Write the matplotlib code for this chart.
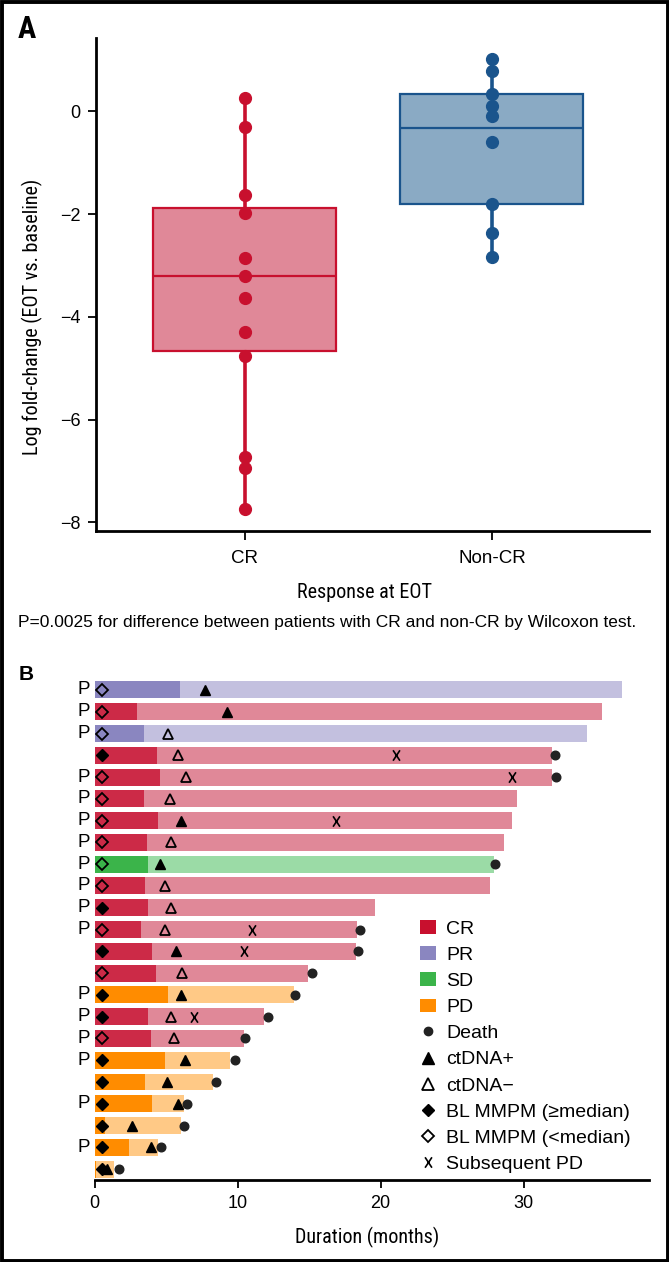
import numpy as np
import matplotlib
matplotlib.use("Agg")
import matplotlib.pyplot as plt
import matplotlib.font_manager as fm
from matplotlib.patches import Patch, Rectangle
from matplotlib.lines import Line2D
from matplotlib.path import Path

# ---------------- Panel A data ----------------
groups = ["CR", "Non-CR"]
cr_values = [0.26, -0.31, -1.63, -1.97, -2.86, -3.21, -3.64, -4.29, -4.76, -6.72, -6.95, -7.74]
noncr_values = [1.02, 0.78, 0.33, 0.10, -0.09, -0.60, -1.80, -2.36, -2.83]
box_q1 = [-4.66, -1.80]
box_med = [-3.20, -0.32]
box_q3 = [-1.88, 0.34]
box_lo = [-7.74, -2.83]
box_hi = [0.26, 1.02]
a_yticks = [-8, -6, -4, -2, 0]

# ---------------- Panel B data (rows top to bottom) ----------------
resp = ["PR", "CR", "PR", "CR", "CR", "CR", "CR", "CR", "SD", "CR", "CR", "CR",
        "CR", "CR", "PD", "CR", "CR", "PD", "PD", "PD", "PD", "PD", "PD"]
dur_end = [36.86, 35.48, 34.47, 31.99, 31.99, 29.51, 29.19, 28.62, 27.96, 27.64, 19.64, 18.35,
           18.26, 14.92, 13.94, 11.82, 10.45, 9.46, 8.26, 6.24, 6.03, 4.40, 1.37]
resp_end = [5.97, 2.95, 3.46, 4.33, 4.57, 3.46, 4.45, 3.67, 3.70, 3.52, 3.76, 3.22,
            4.00, 4.27, 5.13, 3.73, 3.91, 4.92, 3.52, 4.00, 0.74, 2.39, 0.10]
ctdna_t = [7.73, 9.28, 5.10, 5.85, 6.42, 5.28, 6.06, 5.31, 4.54, 4.92, 5.34, 4.95,
           5.67, 6.09, 6.03, 5.34, 5.55, 6.30, 5.04, 5.85, 2.63, 3.93, 0.88]
ctdna_pos = [1, 1, 0, 0, 0, 0, 1, 0, 1, 0, 0, 0, 1, 0, 1, 0, 0, 1, 1, 1, 1, 1, 1]
mmpm_high = [0, 0, 0, 1, 0, 0, 0, 0, 0, 0, 1, 0, 1, 0, 1, 1, 0, 1, 1, 1, 1, 1, 1]
mmpm_t = [0.54] * 22 + [0.49]
nan = float("nan")
death_t = [nan, nan, nan, 32.20, 32.29, nan, nan, nan, 28.02, nan, nan, 18.53,
           18.44, 15.19, 14.00, 12.09, 10.54, 9.79, 8.48, 6.45, 6.27, 4.67, 1.72]
subpd_t = [nan, nan, nan, 21.07, 29.19, nan, 16.86, nan, nan, nan, nan, 10.98,
           10.47, nan, nan, 6.98, nan, nan, nan, nan, nan, nan, nan]
p_flag = [1, 1, 1, 0, 1, 1, 1, 1, 1, 1, 1, 1, 0, 0, 1, 1, 1, 1, 0, 1, 0, 1, 0]
b_xticks = [0, 10, 20, 30]
legend_labels = ["CR", "PR", "SD", "PD", "Death", "ctDNA+", "ctDNA\u2212",
                 "BL MMPM (\u2265median)", "BL MMPM (<median)", "Subsequent PD"]

# ---------------- styles ----------------
dark = {"CR": "#CC2A47", "PR": "#8A86C0", "SD": "#3BB44A", "PD": "#FF8C00"}
light = {"CR": "#E08898", "PR": "#C3C0DF", "SD": "#9BDBA6", "PD": "#FFC986"}
legend_col = {"CR": "#C8102E", "PR": "#8A86C0", "SD": "#3BB44A", "PD": "#FF8C00"}
a_line = ["#C8102E", "#1A548C"]
a_fill = ["#E08898", "#8AAAC4"]

# thin letter-like "x" marker
xmark = Path([(-0.33, -0.5), (0.33, 0.5), (-0.33, 0.5), (0.33, -0.5)],
             [Path.MOVETO, Path.LINETO, Path.MOVETO, Path.LINETO])

# fonts
avail = {f.name for f in fm.fontManager.ttflist}
SANS = ["Liberation Sans", "DejaVu Sans"]
narrow_kw = None
for n in ["Liberation Sans Narrow", "DejaVu Sans Condensed", "Roboto Condensed", "Open Sans Condensed"]:
    if n in avail:
        narrow_kw = {"family": [n, "DejaVu Sans"]}
        break
if narrow_kw is None:
    if any(f.name == "DejaVu Sans" and f.stretch == "condensed" for f in fm.fontManager.ttflist):
        narrow_kw = {"family": ["DejaVu Sans"], "stretch": "condensed"}
    else:
        narrow_kw = {"family": SANS}
plt.rcParams["font.family"] = SANS
plt.rcParams["axes.unicode_minus"] = True

W, H = 669, 1262
fig = plt.figure(figsize=(W / 100, H / 100), dpi=100)
fig.patch.set_facecolor("white")

def fx(px):
    return px / W

def fy(py):
    return 1 - py / H

# ---------------- Panel A ----------------
axA = fig.add_axes([fx(96.4), fy(531), fx(649.3) - fx(96.4), fy(38) - fy(531)])
stats = []
for i in range(2):
    stats.append({"med": box_med[i], "q1": box_q1[i], "q3": box_q3[i],
                  "whislo": box_lo[i], "whishi": box_hi[i], "fliers": [], "label": groups[i]})
pos = np.arange(len(groups))
bp = axA.bxp(stats, positions=pos, widths=0.74, patch_artist=True, showcaps=False,
             showfliers=False, manage_ticks=False)
for i in range(2):
    bp["boxes"][i].set(facecolor=a_fill[i], edgecolor=a_line[i], linewidth=1.6, zorder=2)
    bp["medians"][i].set(color=a_line[i], linewidth=1.6, zorder=3)
    for w in bp["whiskers"][2 * i:2 * i + 2]:
        w.set(color=a_line[i], linewidth=2.6, zorder=1, solid_capstyle="butt")
axA.plot(np.full(len(cr_values), pos[0]), cr_values, "o", color=a_line[0], ms=8.5, zorder=4)
axA.plot(np.full(len(noncr_values), pos[1]), noncr_values, "o", color=a_line[1], ms=8.5, zorder=4)
axA.set_xlim(-0.599, 1.636)
axA.set_ylim(-8.17, 1.43)
axA.set_xticks(pos)
axA.set_xticklabels(groups, fontsize=13.5)
axA.set_yticks(a_yticks)
axA.tick_params(axis="y", labelsize=13, length=6, width=1.3, pad=5.5)
axA.tick_params(axis="x", length=6.5, width=1.3, pad=7)
for s in ["top", "right"]:
    axA.spines[s].set_visible(False)
for s in ["left", "bottom"]:
    axA.spines[s].set_linewidth(2.0)
axA.set_ylabel("Log fold-change (EOT vs. baseline)", fontsize=14.5, **narrow_kw)
axA.yaxis.label.set_verticalalignment("center")
axA.yaxis.set_label_coords((32 - 96.4) / 552.9, (531 - 316.5) / 493)
axA.set_xlabel("Response at EOT", fontsize=14.5, **narrow_kw)
axA.xaxis.label.set_verticalalignment("center")
axA.xaxis.set_label_coords((364.8 - 96.4) / 552.9, (531 - 592) / 493)

fig.text(fx(18), fy(623), "P=0.0025 for difference between patients with CR and non-CR by Wilcoxon test.",
         fontsize=12.5, ha="left", va="center")
fig.text(fx(27), fy(29), "A", fontsize=22, fontweight="bold", ha="center", va="center", **narrow_kw)
fig.text(fx(26.5), fy(674), "B", fontsize=15, fontweight="bold", ha="center", va="center")

# ---------------- Panel B ----------------
axB = fig.add_axes([fx(94.7), fy(1180), fx(649.3) - fx(94.7), fy(679.1) - fy(1180)])
n = len(resp)
rows = np.arange(n)
bh = 0.78
axB.barh(rows, dur_end, height=bh, left=0, color=[light[r] for r in resp], zorder=1)
axB.barh(rows, resp_end, height=bh, left=0, color=[dark[r] for r in resp], zorder=2)

ct = np.array(ctdna_t)
cp = np.array(ctdna_pos, dtype=bool)
axB.plot(ct[cp], rows[cp], "^", color="black", ms=7.5, ls="none", zorder=4)
axB.plot(ct[~cp], rows[~cp], "^", mfc="none", mec="black", mew=1.3, ms=7.5, ls="none", zorder=4)
mt = np.array(mmpm_t)
mh = np.array(mmpm_high, dtype=bool)
axB.plot(mt[mh], rows[mh], "D", color="black", ms=6.2, ls="none", zorder=4)
axB.plot(mt[~mh], rows[~mh], "D", mfc="none", mec="black", mew=1.3, ms=6.2, ls="none", zorder=4)
axB.plot(death_t, rows, "o", color="#222222", ms=6.2, ls="none", zorder=4)
axB.plot(subpd_t, rows, marker=xmark, color="black", mfc="none", mew=1.2, ms=7.5, ls="none", zorder=4)
for i in rows:
    if p_flag[i]:
        axB.text(-0.36, i, "P", fontsize=13.5, ha="right", va="center", clip_on=False)

axB.set_xlim(0, 38.8)
axB.set_ylim(n - 0.5, -0.5)
axB.set_yticks([])
axB.set_xticks(b_xticks)
axB.tick_params(axis="x", labelsize=13, length=6, width=1.3, pad=5)
for s in ["top", "right", "left"]:
    axB.spines[s].set_visible(False)
axB.spines["bottom"].set_linewidth(2.0)
axB.set_xlabel("Duration (months)", fontsize=14.5, **narrow_kw)
axB.xaxis.label.set_verticalalignment("center")
axB.xaxis.set_label_coords((367 - 94.7) / 554.6, (1180 - 1237) / 500.9)

handles = [Patch(facecolor=legend_col[k], edgecolor="none") for k in ["CR", "PR", "SD", "PD"]]
handles += [
    Line2D([], [], marker="o", color="#222222", ls="none", ms=6),
    Line2D([], [], marker="^", color="black", ls="none", ms=8),
    Line2D([], [], marker="^", mfc="none", mec="black", mew=1.3, ls="none", ms=8),
    Line2D([], [], marker="D", color="black", ls="none", ms=6.2),
    Line2D([], [], marker="D", mfc="none", mec="black", mew=1.3, ls="none", ms=6.2),
    Line2D([], [], marker=xmark, color="black", mfc="none", mew=1.2, ls="none", ms=7.5),
]
fig.legend(handles, legend_labels, loc="upper left", bbox_to_anchor=(fx(420), fy(920)),
           frameon=False, fontsize=14, handlelength=0.8, handleheight=0.7,
           handletextpad=0.55, labelspacing=0.44, borderpad=0, borderaxespad=0)

# outer frame
fig.patches.append(Rectangle((fx(1.5), fy(H - 1.5)), fx(W - 3), fy(1.5) - fy(H - 1.5),
                             transform=fig.transFigure, fill=False, ec="black", lw=2.8))

fig.savefig("out.png", dpi=100, facecolor="white")
